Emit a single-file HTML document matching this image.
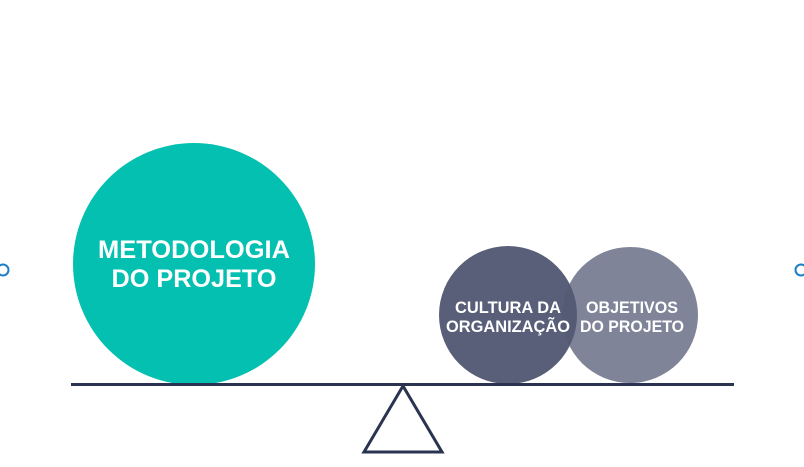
<!DOCTYPE html>
<html><head><meta charset="utf-8"><style>
html,body{margin:0;padding:0;background:#fff;width:804px;height:467px;overflow:hidden}
</style></head><body>
<svg width="804" height="467" viewBox="0 0 804 467" xmlns="http://www.w3.org/2000/svg" font-family="'Liberation Sans', sans-serif" font-weight="bold">
<circle cx="194" cy="264" r="121" fill="#03c0b1"/>
<circle cx="630" cy="315" r="68" fill="#7f8499"/>
<circle cx="508" cy="315" r="69" fill="#545a74" fill-opacity="0.97"/>
<line x1="71" y1="384.5" x2="734" y2="384.5" stroke="#2a3350" stroke-width="3"/>
<polygon points="403,386 364,452 442,452" fill="none" stroke="#2a3350" stroke-width="3" stroke-linejoin="miter"/>
<circle cx="3" cy="270" r="5.5" fill="#fff" stroke="#1a7fc8" stroke-width="2"/>
<circle cx="801" cy="270" r="5.5" fill="#fff" stroke="#1a7fc8" stroke-width="2"/>
<g fill="#fff" text-anchor="middle">
<text x="194" y="258" font-size="25" textLength="192" lengthAdjust="spacingAndGlyphs">METODOLOGIA</text>
<text x="194" y="287" font-size="25" textLength="165" lengthAdjust="spacingAndGlyphs">DO PROJETO</text>
<text x="508" y="313" font-size="17" textLength="106" lengthAdjust="spacingAndGlyphs">CULTURA DA</text>
<text x="508" y="332" font-size="17" textLength="124" lengthAdjust="spacingAndGlyphs">ORGANIZAÇÃO</text>
<text x="632" y="313" font-size="17" textLength="92" lengthAdjust="spacingAndGlyphs">OBJETIVOS</text>
<text x="632" y="332" font-size="17" textLength="104" lengthAdjust="spacingAndGlyphs">DO PROJETO</text>
</g>
</svg>
</body></html>
